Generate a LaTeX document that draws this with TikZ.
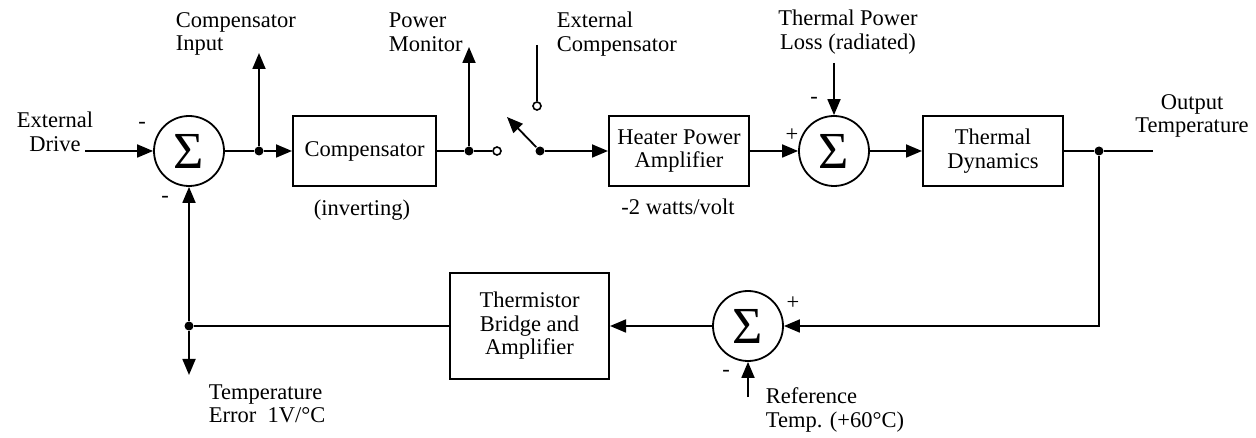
\documentclass[tikz,border=0pt]{standalone}
\usepackage{fontspec}
\setmainfont{Liberation Serif}
\usetikzlibrary{shapes,arrows,arrows.meta,positioning,calc}

\tikzset{
  block/.style={draw, line width=2pt, minimum width=140pt, minimum height=70pt, align=center, inner sep=0pt},
  sumnode/.style={draw, circle, line width=1.8pt, minimum size=70pt, inner sep=0pt, font=\fontsize{52}{52}\selectfont},
  dot/.style={circle, fill, inner sep=0pt, minimum size=9pt},
  term/.style={circle, draw, line width=1.6pt, inner sep=0pt, minimum size=8pt},
  lbl/.style={inner sep=0pt, align=left},
  sgn/.style={inner sep=0pt},
}

\begin{document}
\begin{tikzpicture}[x=1pt,y=-1pt, line width=1.8pt, >={Triangle[length=16pt,width=13pt]},
                    font=\fontsize{22.5}{23.5}\selectfont]
    \useasboundingbox (0,0) rectangle (1256,438);

    % forward path
    \node[sumnode] (sum1) at (189,151) {Σ};
    \node[block, minimum width=143pt] (comp) at (364.5,151) {Compensator};
    \node[block] (heater) at (679,151) {Heater Power\\Amplifier};
    \node[sumnode] (sum2) at (834,151) {Σ};
    \node[block] (thermal) at (993,151) {Thermal\\Dynamics};

    % feedback path
    \node[sumnode] (sum3) at (748,326) {Σ};
    \node[block, minimum width=159pt, minimum height=106pt] (bridge) at (529.5,326) {Thermistor\\Bridge and\\Amplifier};

    % junctions and switch
    \node[dot] (j1) at (259,151) {};
    \node[dot] (j2) at (469,151) {};
    \node[term] (t1) at (497,151) {};
    \node[dot] (piv) at (540,151) {};
    \node[term] (t2) at (537,106) {};
    \node[dot] (j3) at (1099,151) {};
    \node[dot] (j4) at (189,326) {};

    \coordinate (drv) at (85,151);
    \coordinate (cin) at (259,53);
    \coordinate (pmon) at (469,47);
    \coordinate (arm) at (507,117);
    \coordinate (ext) at (537,45);
    \coordinate (loss) at (834,63);
    \coordinate (out) at (1153,151);
    \coordinate (ref) at (748,397);
    \coordinate (terr) at (189,375);

    \draw[->] (drv) -- (sum1);
    \draw (sum1) -- (j1);
    \draw[->] (j1) -- (comp);
    \draw[->] (j1) -- (cin);
    \draw (comp) -- (j2) -- (t1);
    \draw[->] (j2) -- (pmon);
    \draw[->] (piv) -- (arm);
    \draw (ext) -- (t2);
    \draw[->] (piv) -- (heater);
    \draw[->] (heater) -- (sum2);
    \draw[->] (loss) -- (sum2);
    \draw[->] (sum2) -- (thermal);
    \draw (thermal) -- (j3) -- (out);
    \draw[->] (j3) |- (sum3);
    \draw[->] (sum3) -- (bridge);
    \draw[->] (ref) -- (sum3);
    \draw (bridge) -- (j4);
    \draw[->] (j4) -- (sum1);
    \draw[->] (j4) -- (terr);

    % labels
    \node[lbl, align=center] (ldrv) at (55,132) {External\\Drive};
    \node[lbl, anchor=west] (lcin) at (175,34) {Compensator\\Input};
    \node[lbl, anchor=west] (lpmon) at (388,32) {Power\\Monitor};
    \node[lbl, anchor=west] (lext) at (556,34) {External\\Compensator};
    \node[lbl, align=center] (lloss) at (848,32) {Thermal Power\\Loss (radiated)};
    \node[lbl, align=center] (lout) at (1192,116) {Output\\Temperature};
    \node[lbl] (linv) at (362,210) {(inverting)};
    \node[lbl] (lgain) at (678,207) {-2 watts/volt};
    \node[lbl, anchor=west] (lref) at (765,410) {Reference\\Temp. (+60°C)};
    \node[lbl, anchor=west] (lterr) at (208,404) {Temperature\\Error\ \ 1V/°C};

    % signs
    \node[sgn] (s1a) at (142,125) {-};
    \node[sgn] (s1b) at (165,199) {-};
    \node[sgn] (s2a) at (792,135) {+};
    \node[sgn] (s2b) at (814,100) {-};
    \node[sgn] (s3a) at (793,303) {+};
    \node[sgn] (s3b) at (726,373) {-};
\end{tikzpicture}
\end{document}
